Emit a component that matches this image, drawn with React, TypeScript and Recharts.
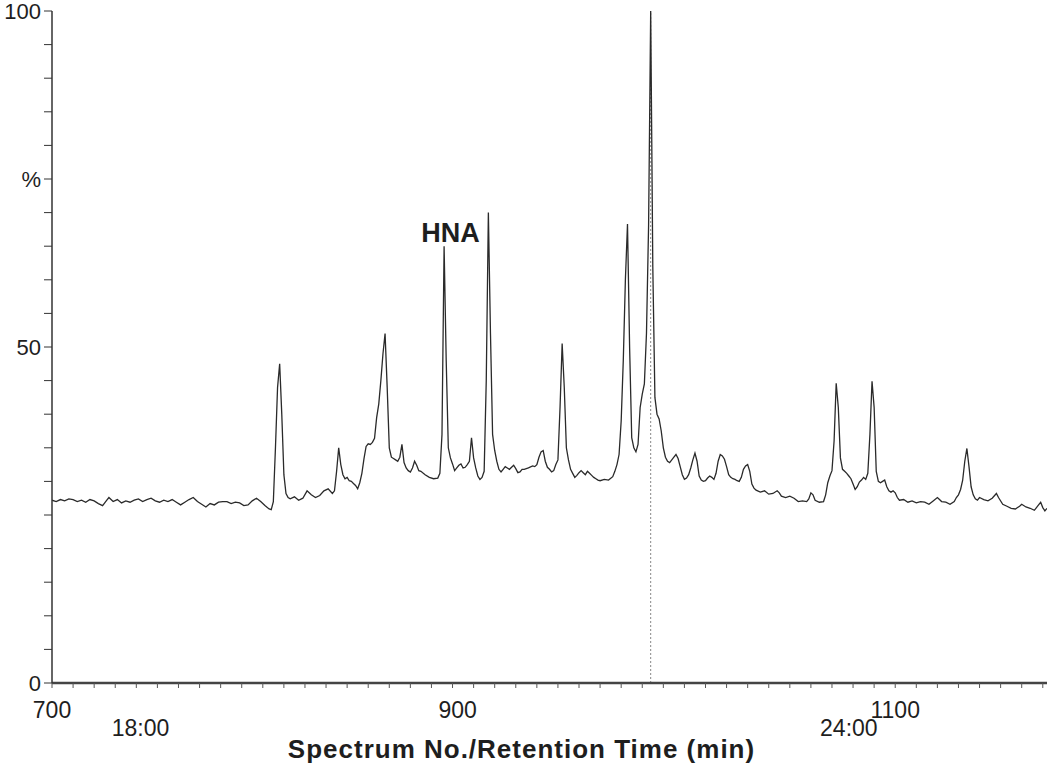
import React from 'react';
import {
  LineChart,
  Line,
  XAxis,
  YAxis,
  ReferenceLine,
  ReferenceDot,
} from 'recharts';

// [spectrum no., intensity %]
const trace: [number, number][] = [
  [700, 27.2], [702, 27.0], [704, 27.3], [706, 27.1], [708, 27.4], [710, 27.3], [712, 27.0], [714, 27.2],
  [716, 26.9], [718, 27.3], [720, 27.1], [722, 26.7], [724, 26.4], [726, 27.2], [727, 27.6], [729, 27.0],
  [731, 27.3], [733, 26.8], [735, 27.1], [737, 26.9], [739, 27.2], [741, 27.4], [743, 27.0], [745, 27.3],
  [747, 27.5], [749, 27.1], [751, 26.9], [753, 27.2], [755, 27.0], [757, 27.3], [759, 26.9], [761, 26.5],
  [763, 26.9], [765, 27.3], [767, 27.6], [769, 27.0], [771, 26.6], [773, 26.2], [775, 26.7], [777, 26.5],
  [779, 26.9], [781, 27.0], [783, 27.0], [785, 26.7], [787, 26.9], [789, 26.8], [791, 26.4], [793, 26.5],
  [795, 27.1], [797, 27.5], [799, 27.0], [801, 26.4], [803, 25.9], [804, 25.8], [805, 27], [806, 35],
  [807, 44], [808, 47.5], [809, 40], [810, 31], [811, 28.2], [812, 27.6], [813, 27.4], [815, 27.7],
  [817, 27.2], [819, 27.5], [821, 28.6], [823, 28.0], [825, 27.6], [827, 27.9], [829, 28.6], [831, 28.9],
  [833, 28.2], [834, 28.6], [835, 31.5], [836, 35], [837, 32.5], [838, 31], [839, 30.4], [840, 30.6],
  [841, 30.1], [842, 30.0], [843, 29.7], [844, 29.4], [845, 28.9], [846, 29.8], [847, 31.2], [848, 33.4],
  [849, 35.2], [850, 35.6], [851, 35.5], [852, 35.8], [853, 36.4], [854, 39.5], [855, 41.5], [856, 45],
  [857, 49], [858, 52], [859, 44], [860, 35], [861, 33.6], [862, 33.4], [863, 33.2], [864, 33.0],
  [865, 33.6], [866, 35.5], [867, 32.8], [868, 32.0], [869, 31.6], [870, 31.4], [871, 32.0], [872, 33.0],
  [873, 32.4], [874, 31.6], [875, 31.5], [877, 31.0], [879, 30.6], [881, 30.4], [883, 30.5], [884, 31.2],
  [885, 37], [886, 65], [887, 48], [888, 35], [889, 33.5], [890, 32.6], [891, 31.6], [892, 32.0],
  [893, 32.4], [894, 32.6], [895, 32.0], [896, 32.1], [897, 32.5], [898, 33.0], [899, 36.5], [900, 33.5],
  [901, 32.0], [902, 30.8], [903, 30.3], [904, 30.6], [905, 31.5], [906, 45], [907, 70], [908, 52],
  [909, 37], [910, 34.6], [911, 33], [912, 31.8], [913, 31.4], [914, 31.8], [915, 32.2], [916, 32.0],
  [917, 31.8], [918, 32.1], [919, 32.4], [920, 31.9], [921, 31.3], [922, 31.4], [923, 31.8], [924, 31.8],
  [926, 32.0], [928, 32.3], [929, 32.2], [930, 32.5], [931, 33.6], [932, 34.4], [933, 34.6], [934, 33.0],
  [935, 32.1], [936, 31.8], [937, 31.4], [938, 31.6], [939, 32.5], [940, 33.2], [941, 41], [942, 50.5],
  [943, 44], [944, 35], [945, 33.2], [946, 31.8], [947, 31.2], [948, 30.6], [949, 30.9], [950, 31.3],
  [951, 31.6], [952, 31.3], [953, 31.0], [954, 31.5], [955, 31.2], [956, 30.9], [957, 30.6], [958, 30.4],
  [959, 30.2], [960, 30.1], [962, 30.3], [964, 30.2], [966, 30.7], [967, 31.5], [968, 32.5], [969, 34],
  [970, 39], [971, 48], [972, 60], [973, 68.3], [974, 50], [975, 36.5], [976, 35], [977, 34.4],
  [978, 35.5], [979, 41], [980, 43], [981, 44.5], [982, 52], [983, 68], [984, 100], [985, 62],
  [986, 42.5], [987, 40], [988, 39.3], [989, 37.5], [990, 35], [991, 33.6], [992, 33.0], [993, 32.8],
  [994, 33.2], [995, 33.6], [996, 34.0], [997, 33.4], [998, 32.2], [999, 31.0], [1000, 30.3], [1001, 30.5],
  [1002, 31.0], [1003, 32.0], [1004, 33.2], [1005, 34.2], [1006, 33], [1007, 30.8], [1008, 30.2], [1009, 30.0],
  [1010, 30.1], [1011, 30.5], [1012, 30.8], [1013, 30.6], [1014, 30.3], [1015, 31.2], [1016, 33.0], [1017, 34.0],
  [1018, 33.8], [1019, 33.3], [1020, 32.2], [1021, 31.0], [1022, 30.6], [1023, 30.4], [1024, 30.3], [1025, 30.1],
  [1026, 30.0], [1027, 30.6], [1028, 31.8], [1029, 32.3], [1030, 32.5], [1031, 31.5], [1032, 29.6], [1033, 29.0],
  [1034, 28.7], [1036, 28.4], [1038, 28.6], [1040, 28.1], [1042, 28.2], [1044, 28.6], [1045, 28.3], [1046, 27.8],
  [1048, 27.6], [1050, 27.8], [1052, 27.5], [1054, 27.0], [1056, 27.1], [1058, 27.0], [1059, 27.4], [1060, 28.3],
  [1061, 28.0], [1062, 27.2], [1064, 26.9], [1066, 27.0], [1067, 28.0], [1068, 29.8], [1069, 30.8], [1070, 31.6],
  [1071, 36], [1072, 44.6], [1073, 41], [1074, 33.5], [1075, 31.8], [1076, 31.5], [1077, 31.2], [1078, 30.8],
  [1079, 30.4], [1080, 29.6], [1081, 28.8], [1082, 29.2], [1083, 29.9], [1084, 30.2], [1085, 30.6], [1086, 30.3],
  [1087, 31.2], [1088, 37], [1089, 44.9], [1090, 41], [1091, 31.5], [1092, 30.0], [1093, 29.8], [1094, 30.0],
  [1095, 30.2], [1096, 29.2], [1097, 28.6], [1098, 28.4], [1099, 28.6], [1100, 28.3], [1101, 27.6], [1102, 27.2],
  [1104, 27.3], [1106, 26.9], [1108, 27.1], [1110, 26.8], [1112, 27.0], [1114, 26.9], [1116, 26.6], [1118, 27.1],
  [1120, 27.6], [1121, 27.3], [1122, 27.0], [1124, 26.9], [1126, 26.6], [1128, 27.0], [1129, 27.6], [1130, 28.0],
  [1131, 28.8], [1132, 30.2], [1133, 33], [1134, 34.9], [1135, 32.2], [1136, 29.2], [1137, 28.0], [1138, 27.4],
  [1139, 27.2], [1140, 27.6], [1142, 27.3], [1144, 27.1], [1146, 27.5], [1148, 28.2], [1149, 27.6], [1151, 26.6],
  [1153, 26.3], [1155, 26.0], [1157, 25.9], [1159, 26.3], [1160, 26.6], [1162, 26.2], [1164, 26.0], [1166, 25.7],
  [1168, 26.5], [1169, 26.9], [1170, 26.1], [1171, 25.6], [1172, 26.0],
];

const scanLabels = [700, 900, 1100];
const timeTicks = [742, 1078];
const timeLabels = ['18:00', '24:00'];
const yTicks = [0, 5, 10, 15, 20, 25, 30, 35, 40, 45, 50, 55, 60, 65, 70, 75, 80, 85, 90, 95, 100];
const yLabels: Record<number, string> = { 0: '0', 50: '50', 75: '%', 100: '100' };
const basePeak = 984;
const hnaPeak = { scan: 889, label: 67, text: 'HNA' };

const chartData = trace.map(([scan, value]) => ({ scan, value }));
const scanTicks = Array.from({ length: 48 }, (_, i) => 700 + i * 10);

const font = '"Liberation Sans", Arial, sans-serif';
const ink = '#1e1e1e';

// tick text for the scan axis; the printed "900" sits a little left of its mark
const ScanTick = (props: any) => {
  const { x, y, payload } = props;
  if (!scanLabels.includes(payload.value)) return null;
  const shift = payload.value === 900 ? -16 : 0;
  return (
    <text x={x + shift} y={y} dy="0.71em" textAnchor="middle" fill={ink} fontSize={23} fontFamily={font}>
      {payload.value}
    </text>
  );
};

export default function App() {
  return (
    <div style={{ position: 'absolute', left: 0, top: 0, background: '#fff' }}>
      <LineChart
        width={1050}
        height={768}
        data={chartData}
        margin={{ top: 11, right: 3, bottom: 0, left: 0 }}
      >
        <XAxis
          xAxisId="scan"
          dataKey="scan"
          type="number"
          domain={[700, 1172]}
          allowDataOverflow
          ticks={scanTicks}
          interval={0}
          height={30}
          tickSize={5}
          tickMargin={14}
          axisLine={{ stroke: '#444', strokeWidth: 2.5 }}
          tickLine={{ stroke: '#555' }}
          tick={<ScanTick />}
        />
        <XAxis
          xAxisId="time"
          dataKey="scan"
          type="number"
          domain={[700, 1172]}
          allowDataOverflow
          ticks={timeTicks}
          interval={0}
          tickFormatter={(v: number) => timeLabels[timeTicks.indexOf(v)] ?? ''}
          height={55}
          tickSize={0}
          tickMargin={7}
          axisLine={false}
          tickLine={false}
          tick={{ fill: ink, fontSize: 23, fontFamily: font }}
          label={{
            value: 'Spectrum No./Retention Time (min)',
            position: 'insideBottom',
            offset: 10,
            dx: -28,
            fill: ink,
            fontSize: 26,
            fontWeight: 'bold',
            fontFamily: font,
            letterSpacing: 1,
          }}
        />
        <YAxis
          type="number"
          domain={[0, 100]}
          ticks={yTicks}
          interval={0}
          tickFormatter={(v: number) => yLabels[v] ?? ''}
          width={52}
          tickSize={8}
          tickMargin={3}
          axisLine={{ stroke: '#333', strokeWidth: 1.5 }}
          tickLine={{ stroke: '#333' }}
          tick={{ fill: ink, fontSize: 22, fontFamily: font }}
        />
        <ReferenceLine
          xAxisId="scan"
          x={basePeak}
          stroke="#888"
          strokeWidth={1}
          strokeDasharray="2 2"
        />
        <Line
          xAxisId="scan"
          type="linear"
          dataKey="value"
          stroke="#2a2a2a"
          strokeWidth={1.3}
          dot={false}
          isAnimationActive={false}
        />
        <ReferenceDot
          xAxisId="scan"
          x={hnaPeak.scan}
          y={hnaPeak.label}
          r={0}
          fill="none"
          stroke="none"
          label={{
            value: hnaPeak.text,
            position: 'center',
            fill: ink,
            fontSize: 27,
            fontWeight: 'bold',
            fontFamily: font,
          }}
        />
      </LineChart>
    </div>
  );
}
